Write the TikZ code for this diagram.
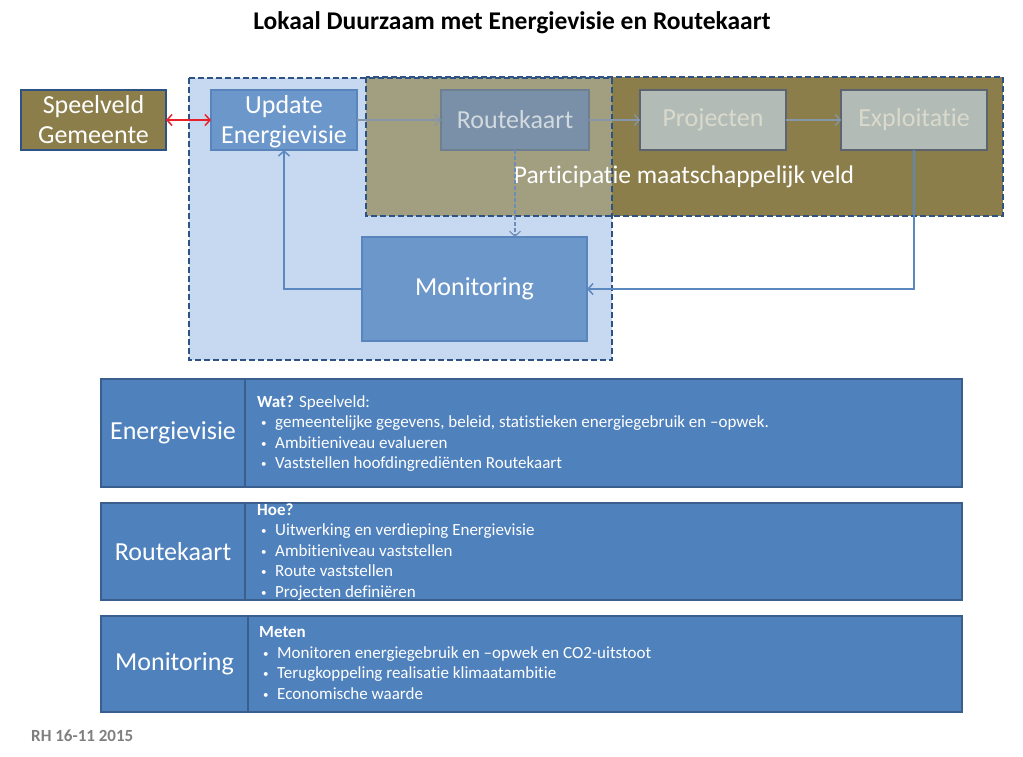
\documentclass[tikz,border=0pt]{standalone}
\usepackage{fontspec}
\setmainfont{Carlito}[Ligatures=NoCommon]
\usepackage{tikz}
\usetikzlibrary{arrows.meta}
\usetikzlibrary{positioning}
\definecolor{olijf}{HTML}{8C7E4A}
\definecolor{lichtblauw}{HTML}{C6D9F1}
\definecolor{overlap}{HTML}{A29E80}
\definecolor{streep}{HTML}{2F5284}
\definecolor{updvul}{HTML}{6C97CB}
\definecolor{updrand}{HTML}{5A85BC}
\definecolor{rkvul}{HTML}{7990A8}
\definecolor{rkrand}{HTML}{6E7F8F}
\definecolor{rktekst}{HTML}{D2D9DF}
\definecolor{grijsvul}{HTML}{B3BBB7}
\definecolor{grijsrand}{HTML}{5C6470}
\definecolor{grijstekst}{HTML}{D9DACB}
\definecolor{tabelvul}{HTML}{4F81BD}
\definecolor{tabelrand}{HTML}{3A5F8D}
\definecolor{lijngrijs}{HTML}{8497AB}
\definecolor{lijnblauw}{HTML}{5C88C0}
\definecolor{stippel}{HTML}{6C8CBA}
\definecolor{rood}{HTML}{E8202A}
\definecolor{datumgrijs}{HTML}{7F7F7F}
\tikzset{stap/.style={draw=updrand, line width=2pt, fill=updvul, text=white, inner sep=0pt, outer sep=0pt, minimum width=146pt, minimum height=60pt, align=center, font=\fontsize{26}{30}\selectfont}}
\tikzset{veld/.style={draw=streep, line width=2.5pt, dash pattern=on 6pt off 3pt}}
\tikzset{cel/.style={draw=tabelrand, line width=2pt, fill=tabelvul, text=white, inner sep=0pt, outer sep=0pt, font=\fontsize{26}{30}\selectfont}}
\tikzset{lijst/.style={text=white, inner sep=0pt, anchor=north west, align=left, font=\fontsize{17}{20.5}\selectfont}}
\newcommand\bul{\makebox[18pt][l]{\hspace{4pt}\raisebox{1pt}{\fontsize{11}{11}\selectfont\textbullet}}}
\newcommand\tweeregels[2]{\raisebox{-8.5pt}[0pt][0pt]{\begin{tabular}{@{}c@{}}#1\\#2\end{tabular}}}

\begin{document}
\begin{tikzpicture}[>={Straight Barb[length=5pt, width=11pt]}, x=1pt, y=-1pt]
			\useasboundingbox (0,0) rectangle (1023,756);
			\node[font=\bfseries\fontsize{25.5}{30}\selectfont] (titel) at (512,23) {Lokaal Duurzaam met Energievisie en Routekaart};
			
			% velden
			\node[fill=lichtblauw, inner sep=0pt, outer sep=0pt, minimum width=423pt, minimum height=282pt] (gemveld) at (400.5,219) {};
			\node[fill=olijf, inner sep=0pt, outer sep=0pt, minimum width=637pt, minimum height=139pt] (maatveld) at (684.5,146.5) {};
			\fill[overlap] (maatveld.north west) rectangle (gemveld.east |- maatveld.south);
			\draw[veld] (gemveld.north west) rectangle (gemveld.south east);
			\draw[veld] (maatveld.north west) rectangle (maatveld.south east);
			
			\node[stap, fill=olijf, draw=streep, minimum width=145pt] (spv) at (93.5,120) {\tweeregels{Speelveld}{Gemeente}};
			\node[stap] (upd) at (284,120) {\tweeregels{Update}{Energievisie}};
			\node[stap, fill=rkvul, draw=rkrand, text=rktekst, minimum width=148pt] (rk) [right = 84pt of upd] {Routekaart};
			\node[stap, fill=grijsvul, draw=grijsrand, text=grijstekst] (proj) [right = 51pt of rk] {Projecten};
			\node[stap, fill=grijsvul, draw=grijsrand, text=grijstekst] (expl) [right = 55pt of proj] {Exploitatie};
			\node[text=white, font=\fontsize{25.5}{30}\selectfont] (part) at (684,177) {Participatie maatschappelijk veld};
			\node[stap, minimum width=225pt, minimum height=104pt] (mon) at (474.5,289) {Monitoring};
			
			\path (spv) edge [<->, draw=rood, line width=1.5pt] (upd);
			\path (upd) edge [->, draw=lijngrijs, line width=1.2pt] (rk);
			\path (rk) edge [->, draw=lijngrijs, line width=1.2pt] (proj);
			\path (proj) edge [->, draw=lijngrijs, line width=1.2pt] (expl);
			\draw[->, draw=stippel, line width=1.1pt, dash pattern=on 4pt off 2pt] (rk.south) -- (rk.south |- mon.north);
			\draw[->, draw=lijnblauw, line width=1.5pt] (expl.south) |- (mon.east);
			\draw[->, draw=lijnblauw, line width=1.5pt] (mon.west) -| (upd.south);
			
			% tabel
			\node[cel, minimum width=144pt, minimum height=108pt] (ev) at (173,433) {Energievisie};
			\node[cel, minimum width=717pt, minimum height=108pt] (evcel) at (603.5,433) {};
			\node[lijst] (evtxt) at (257,395) {\textbf{Wat?} Speelveld:\\\bul gemeentelijke gegevens, beleid, statistieken energiegebruik en –opwek.\\\bul Ambitieniveau evalueren\\\bul Vaststellen hoofdingrediënten Routekaart};
			
			\node[cel, minimum width=144pt, minimum height=97pt] (rkt) at (173,551.5) {Routekaart};
			\node[cel, minimum width=717pt, minimum height=97pt] (rkcel) at (603.5,551.5) {};
			\node[lijst] (rktxt) at (257,503.5) {\textbf{Hoe?}\\\bul Uitwerking en verdieping Energievisie\\\bul Ambitieniveau vaststellen\\\bul Route vaststellen\\\bul Projecten definiëren};
			
			\node[cel, minimum width=147pt, minimum height=96pt] (mont) at (174.5,664) {Monitoring};
			\node[cel, minimum width=714pt, minimum height=96pt] (moncel) at (605,664) {};
			\node[lijst] (montxt) at (259,626.5) {\textbf{Meten}\\\bul Monitoren energiegebruik en –opwek en CO2-uitstoot\\\bul Terugkoppeling realisatie klimaatambitie\\\bul Economische waarde};
			
			\node[anchor=west, inner sep=0pt, text=datumgrijs, font=\bfseries\fontsize{17}{20}\selectfont] (datum) at (31,736) {RH 16-11 2015};
		\end{tikzpicture}
\end{document}
